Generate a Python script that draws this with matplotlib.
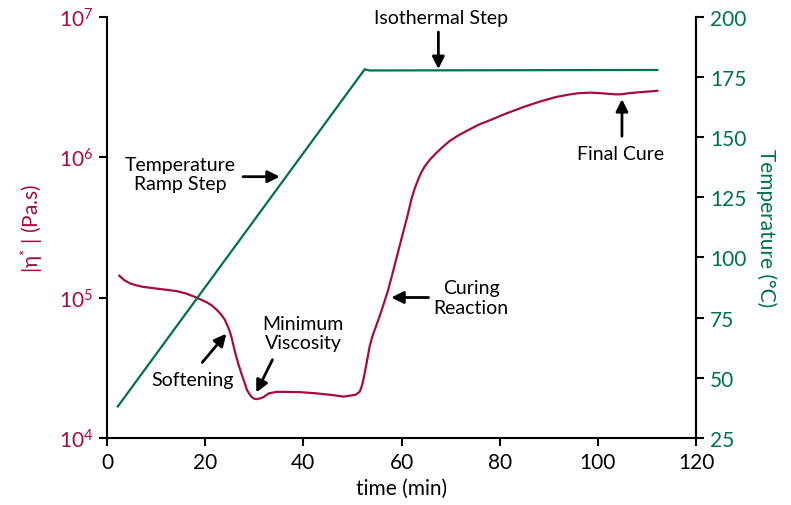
import matplotlib
matplotlib.use("Agg")
import matplotlib.pyplot as plt
from matplotlib.ticker import FixedLocator, NullLocator

plt.rcParams['font.family'] = ['Lato', 'DejaVu Sans']
plt.rcParams['mathtext.fontset'] = 'custom'
plt.rcParams['mathtext.rm'] = 'Lato'
plt.rcParams['mathtext.it'] = 'Lato'

RED = '#A50D3F'
GREEN = '#00704F'

# ---- data ----
temp_time = [2.2, 52.5, 53.5, 112.1]
temp_vals = [38.1, 178.1, 177.6, 177.8]

visc_time = [2.5, 3.5, 4.7, 6.0, 7.4, 9.0, 10.8, 12.5, 14.2, 16.0, 17.6, 19.0,
             20.3, 21.3, 22.3, 23.2, 24.0, 24.5, 25.0, 25.4, 25.8, 26.2, 26.7,
             27.2, 27.7, 28.1, 28.5, 29.0, 29.4, 29.9, 30.4, 31.1, 31.8, 33.0,
             34.5, 36.5, 39.3, 42.6, 46.0, 48.2, 49.4, 50.6, 51.5, 52.0, 52.5,
             53.0, 53.5, 54.1, 54.8, 55.5, 56.2, 57.2, 58.2, 59.2, 60.3, 61.2,
             62.0, 62.7, 63.4, 64.0, 64.7, 65.8, 67.1, 68.4, 69.8, 71.5, 73.2,
             75.9, 77.9, 81.0, 84.7, 88.0, 91.4, 94.0, 96.2, 98.5, 100.3,
             102.0, 103.7, 105.0, 106.4, 109.0, 112.1]
visc_vals = [1.43e5, 1.33e5, 1.26e5, 1.22e5, 1.19e5, 1.17e5, 1.15e5, 1.13e5,
             1.11e5, 1.07e5, 1.02e5, 9.70e4, 9.25e4, 8.80e4, 8.20e4, 7.60e4,
             6.95e4, 6.35e4, 5.74e4, 5.15e4, 4.49e4, 3.95e4, 3.41e4, 3.00e4,
             2.67e4, 2.43e4, 2.20e4, 2.06e4, 1.97e4, 1.91e4, 1.89e4, 1.91e4,
             1.95e4, 2.08e4, 2.13e4, 2.13e4, 2.12e4, 2.08e4, 2.02e4, 1.97e4,
             2.00e4, 2.03e4, 2.14e4, 2.40e4, 2.90e4, 3.60e4, 4.49e4, 5.35e4,
             6.24e4, 7.30e4, 8.65e4, 1.11e5, 1.50e5, 2.05e5, 2.89e5, 3.80e5,
             4.99e5, 6.00e5, 6.93e5, 7.75e5, 8.55e5, 9.60e5, 1.07e6, 1.18e6,
             1.30e6, 1.42e6, 1.53e6, 1.71e6, 1.82e6, 2.02e6, 2.26e6, 2.47e6,
             2.67e6, 2.78e6, 2.85e6, 2.87e6, 2.85e6, 2.82e6, 2.79e6, 2.80e6,
             2.85e6, 2.90e6, 2.96e6]

x_ticks = [0, 20, 40, 60, 80, 100, 120]
left_ticks = [1e4, 1e5, 1e6, 1e7]
left_labels = ['10$^{4}$', '10$^{5}$', '10$^{6}$', '10$^{7}$']
right_ticks = [25, 50, 75, 100, 125, 150, 175, 200]

fig = plt.figure(figsize=(7.91, 5.06), dpi=100)
ax = fig.add_axes([0.1353, 0.1324, 0.7447, 0.8330])
ax2 = ax.twinx()

ax.plot(visc_time, visc_vals, color=RED, lw=1.6, zorder=3)
ax2.plot(temp_time, temp_vals, color=GREEN, lw=1.6, zorder=3)

ax.set_yscale('log')
ax.set_xlim(0, 120)
ax.set_ylim(1e4, 1e7)
ax2.set_ylim(25, 200)

ax.yaxis.set_major_locator(FixedLocator(left_ticks))
ax.yaxis.set_minor_locator(NullLocator())
ax.set_yticklabels(left_labels)
ax.set_xticks(x_ticks)
ax2.set_yticks(right_ticks)

for a in (ax, ax2):
    a.spines['top'].set_visible(False)
    for s in a.spines.values():
        s.set_linewidth(1.5)
ax2.spines['left'].set_visible(False)
ax2.spines['bottom'].set_visible(False)

ax.tick_params(axis='x', direction='out', length=6, width=1.5, labelsize=15,
               colors='black', pad=4)
ax.tick_params(axis='y', direction='out', length=6, width=1.5, labelsize=15,
               labelcolor=RED, pad=4)
ax2.tick_params(axis='y', direction='out', length=6, width=1.5, labelsize=15,
                labelcolor=GREEN, pad=4)

ax.set_xlabel('time (min)', fontsize=15, labelpad=4)
ax.set_ylabel('|η$^{*}$ | (Pa.s)', fontsize=15, color=RED, labelpad=10)
ax2.set_ylabel('Temperature (°C)', fontsize=15, color=GREEN, rotation=270,
               labelpad=22)

arrow = dict(arrowstyle='-|>', color='black', lw=2, mutation_scale=18,
             shrinkA=0, shrinkB=0)
fs = 14

ax.text(68.1, 10**6.99, 'Isothermal Step', ha='center', va='center', fontsize=fs)
ax.annotate('', xy=(67.5, 10**6.626), xytext=(67.5, 10**6.889), arrowprops=arrow)

ax.text(104.7, 10**6.026, 'Final Cure', ha='center', va='center', fontsize=fs)
ax.annotate('', xy=(104.9, 10**6.412), xytext=(104.9, 10**6.148), arrowprops=arrow)

ax.text(14.85, 10**5.877, 'Temperature\nRamp Step', ha='center', va='center',
        fontsize=fs, linespacing=1.15)
ax.annotate('', xy=(35.2, 10**5.86), xytext=(27.7, 10**5.86), arrowprops=arrow)

ax.text(74.2, 10**5.0, 'Curing\nReaction', ha='center', va='center',
        fontsize=fs, linespacing=1.15)
ax.annotate('', xy=(57.9, 10**5.0), xytext=(65.5, 10**5.0), arrowprops=arrow)

ax.text(17.4, 10**4.414, 'Softening', ha='center', va='center', fontsize=fs)
ax.annotate('', xy=(24.3, 10**4.742), xytext=(19.4, 10**4.538), arrowprops=arrow)

ax.text(39.9, 10**4.75, 'Minimum\nViscosity', ha='center', va='center',
        fontsize=fs, linespacing=1.15)
ax.annotate('', xy=(30.4, 10**4.324), xytext=(33.7, 10**4.557), arrowprops=arrow)

fig.savefig('out.png', dpi=100)
